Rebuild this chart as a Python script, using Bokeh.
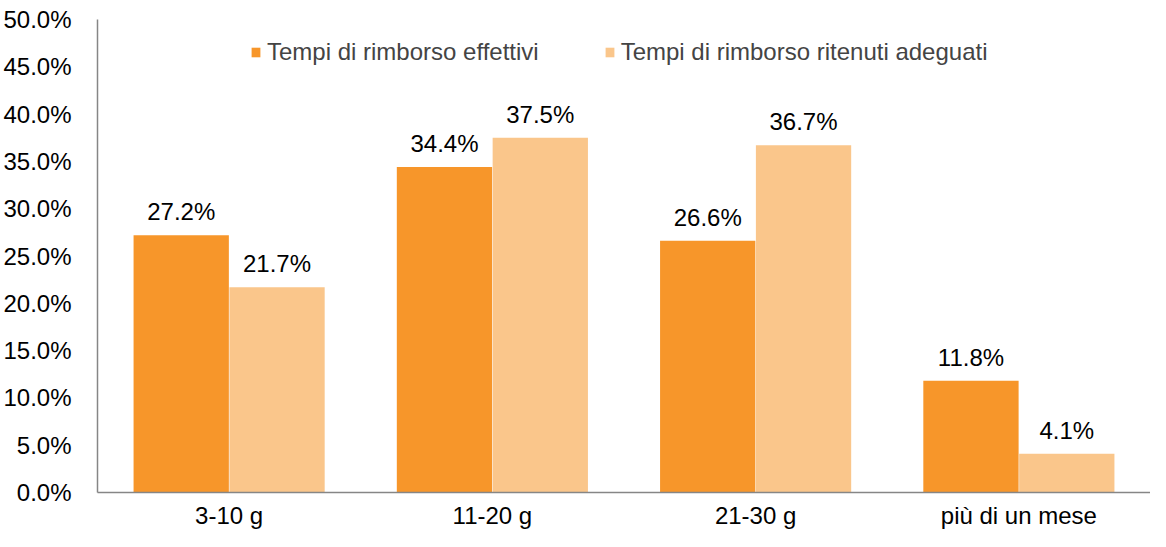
from bokeh.plotting import figure
from bokeh.models import ColumnDataSource, FixedTicker, Legend, LegendItem, LabelSet, NumeralTickFormatter, Range1d
from bokeh.core.properties import value
from bokeh.transform import dodge
from bokeh.embed import file_html
from bokeh.resources import INLINE

categories = ["3-10 g", "11-20 g", "21-30 g", "più di un mese"]
effettivi = [27.2, 34.4, 26.6, 11.8]
adeguati = [21.7, 37.5, 36.7, 4.1]
series_names = ["Tempi di rimborso effettivi", "Tempi di rimborso ritenuti adeguati"]
y_ticks = [0, 5, 10, 15, 20, 25, 30, 35, 40, 45, 50]

C1 = "#F7962A"
C2 = "#FAC68B"
FONT = "Liberation Sans"
FS = "24px"

xpos = [i + 0.5 for i in range(len(categories))]
src = ColumnDataSource(dict(
    x=xpos, e=effettivi, a=adeguati,
    el=[f"{v:.1f}%" for v in effettivi],
    al=[f"{v:.1f}%" for v in adeguati],
))

p = figure(width=1150, height=531, output_backend="svg", toolbar_location=None,
           x_range=Range1d(0, 4), y_range=Range1d(0, 50),
           min_border_left=97, min_border_right=0, min_border_top=19, min_border_bottom=30)
p.outline_line_color = None
p.grid.grid_line_color = None

r1 = p.vbar(x=dodge("x", -0.182, range=p.x_range), top="e", width=0.362, source=src,
            fill_color=C1, line_color=None)
r2 = p.vbar(x=dodge("x", 0.182, range=p.x_range), top="a", width=0.362, source=src,
            fill_color=C2, line_color=None)

for col, lab, off in (("e", "el", -0.182), ("a", "al", 0.182)):
    ls = LabelSet(x=dodge("x", off, range=p.x_range), y=col, text=lab, source=src,
                  text_align="center", text_baseline="bottom", y_offset=10,
                  text_font=value(FONT), text_font_size=value(FS), text_color="#000000")
    p.add_layout(ls)

p.yaxis.ticker = FixedTicker(ticks=y_ticks)
p.yaxis.formatter = NumeralTickFormatter(format="0.0")
p.yaxis.major_label_overrides = {t: f"{t:.1f}%" for t in y_ticks}
p.xaxis.ticker = FixedTicker(ticks=xpos)
p.xaxis.major_label_overrides = {x: c for x, c in zip(xpos, categories)}
for ax in (p.xaxis, p.yaxis):
    ax.axis_line_color = "#868686"
    ax.axis_line_width = 1.5
    ax.major_tick_line_color = None
    ax.minor_tick_line_color = None
    ax.major_label_text_font = FONT
    ax.major_label_text_font_size = FS
    ax.major_label_text_color = "#000000"
p.yaxis.major_label_standoff = 20
p.xaxis.major_label_standoff = 3

legend = Legend(items=[LegendItem(label=series_names[0], renderers=[r1]),
                       LegendItem(label=series_names[1], renderers=[r2])],
                orientation="horizontal", location=(153, 426),
                label_text_font=FONT, label_text_font_size=FS,
                glyph_width=11, glyph_height=12, label_standoff=6, spacing=65,
                padding=0, margin=0, border_line_color=None, background_fill_alpha=0)
p.add_layout(legend)

open("out.html", "w").write(file_html(p, INLINE))
